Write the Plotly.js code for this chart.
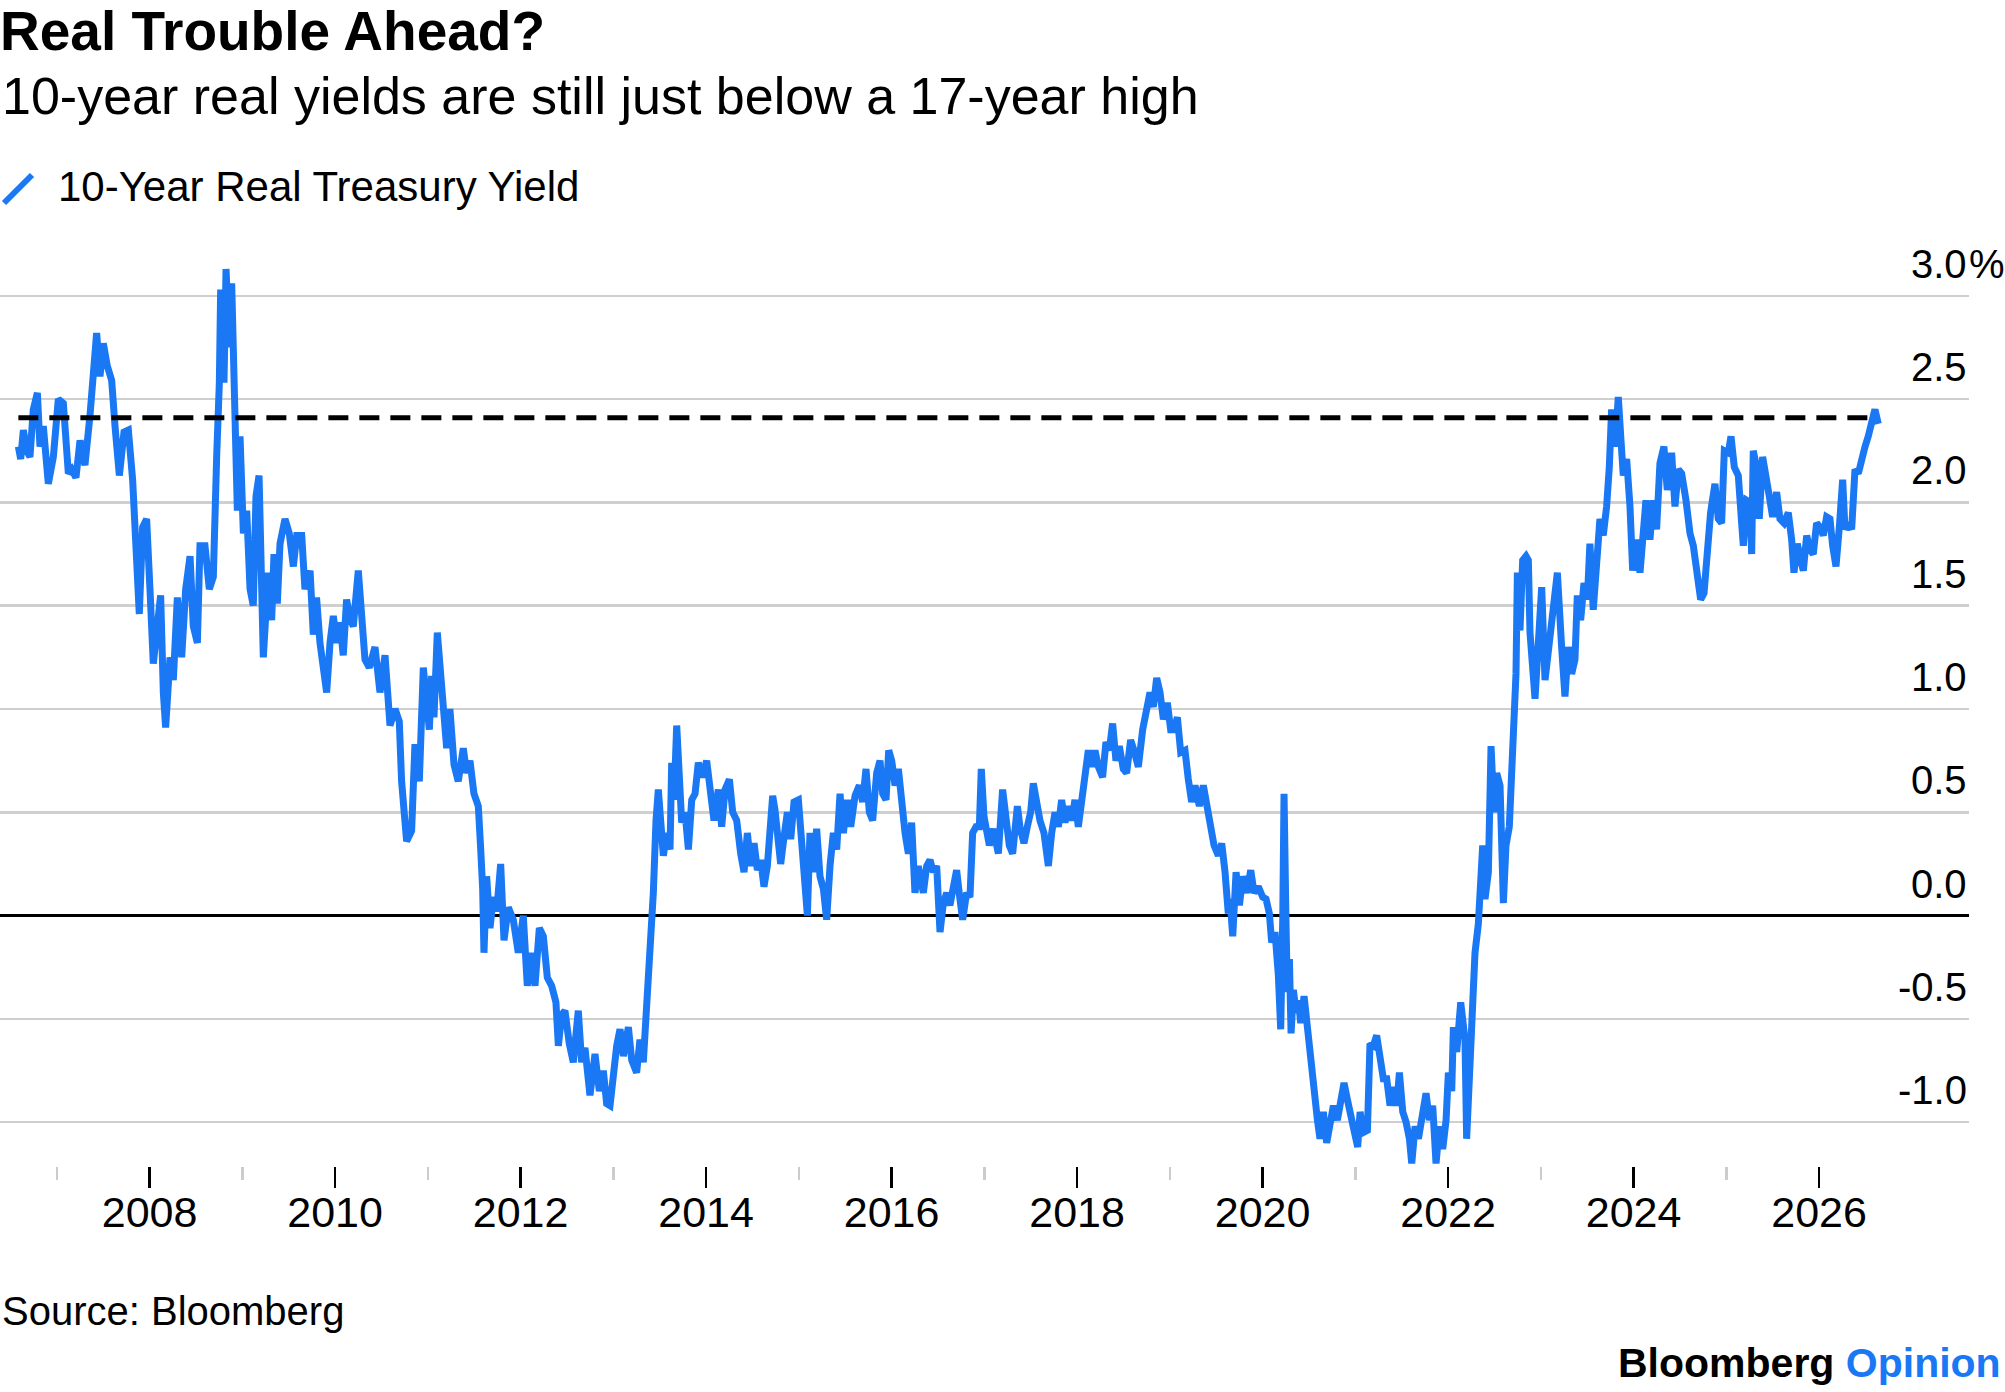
<!DOCTYPE html>
<html>
<head>
<meta charset="utf-8">
<script src="https://cdn.plot.ly/plotly-3.0.1.min.js"></script>
<style>
  html, body { margin: 0; padding: 0; background: #ffffff; }
  #chart { width: 2005px; height: 1392px; }
</style>
</head>
<body>
<div id="chart"></div>
<script>
// ---- Data (decimal year, 10-year real Treasury yield in %) ----
const dates = [
  2006.585, 2006.610, 2006.639, 2006.675, 2006.710, 2006.746, 2006.790, 2006.818, 2006.854, 2006.908,
  2006.962, 2007.016, 2007.070, 2007.124, 2007.160, 2007.206, 2007.250, 2007.303, 2007.357, 2007.429,
  2007.465, 2007.501, 2007.544, 2007.591, 2007.627, 2007.674, 2007.724, 2007.771, 2007.817, 2007.853,
  2007.889, 2007.925, 2007.968, 2008.004, 2008.040, 2008.076, 2008.119, 2008.148, 2008.173, 2008.220,
  2008.256, 2008.299, 2008.346, 2008.389, 2008.436, 2008.471, 2008.515, 2008.543, 2008.597, 2008.644,
  2008.687, 2008.723, 2008.752, 2008.766, 2008.802, 2008.824, 2008.860, 2008.885, 2008.921, 2008.946,
  2008.975, 2009.011, 2009.047, 2009.083, 2009.118, 2009.147, 2009.180, 2009.226, 2009.280, 2009.316,
  2009.341, 2009.377, 2009.406, 2009.460, 2009.506, 2009.550, 2009.586, 2009.640, 2009.675,
  2009.730, 2009.765, 2009.800, 2009.837, 2009.873, 2009.909, 2009.945, 2009.981, 2010.017, 2010.052,
  2010.088, 2010.124, 2010.160, 2010.196, 2010.250, 2010.286, 2010.322, 2010.369, 2010.430, 2010.484,
  2010.538, 2010.592, 2010.646, 2010.692, 2010.717, 2010.771, 2010.825, 2010.861, 2010.908, 2010.951,
  2010.987, 2011.016, 2011.041, 2011.066, 2011.102, 2011.138, 2011.167, 2011.203, 2011.238, 2011.282,
  2011.328, 2011.382, 2011.418, 2011.454, 2011.497, 2011.544, 2011.569, 2011.591, 2011.605, 2011.634,
  2011.670, 2011.706, 2011.742, 2011.785, 2011.821, 2011.867, 2011.921, 2011.975, 2012.029, 2012.072,
  2012.119, 2012.155, 2012.202, 2012.245, 2012.288, 2012.335, 2012.381, 2012.407, 2012.443, 2012.478,
  2012.525, 2012.568, 2012.622, 2012.658, 2012.694, 2012.748, 2012.802, 2012.849, 2012.892, 2012.928,
  2012.964, 2013.000, 2013.036, 2013.072, 2013.108, 2013.162, 2013.198, 2013.251, 2013.287, 2013.323,
  2013.359, 2013.388, 2013.413, 2013.431, 2013.460, 2013.485, 2013.510, 2013.539, 2013.575, 2013.611,
  2013.629, 2013.654, 2013.683, 2013.719, 2013.737, 2013.773, 2013.809, 2013.845, 2013.881, 2013.916,
  2013.963, 2014.006, 2014.042, 2014.085, 2014.132, 2014.168, 2014.204, 2014.251, 2014.287, 2014.330,
  2014.373, 2014.409, 2014.445, 2014.481, 2014.517, 2014.553, 2014.588, 2014.624, 2014.660, 2014.689,
  2014.718, 2014.743, 2014.772, 2014.804, 2014.840, 2014.876, 2014.912, 2014.948, 2014.995, 2015.031,
  2015.059, 2015.092, 2015.120, 2015.156, 2015.192, 2015.228, 2015.264, 2015.300, 2015.336, 2015.372,
  2015.408, 2015.444, 2015.480, 2015.523, 2015.559, 2015.606, 2015.652, 2015.688, 2015.724, 2015.760,
  2015.796, 2015.839, 2015.875, 2015.904, 2015.940, 2015.969, 2016.001, 2016.037, 2016.073, 2016.109,
  2016.145, 2016.181, 2016.216, 2016.252, 2016.288,
  2016.342, 2016.378, 2016.414, 2016.450, 2016.486, 2016.522, 2016.558, 2016.594, 2016.629, 2016.665,
  2016.701, 2016.737, 2016.766, 2016.809, 2016.845, 2016.874, 2016.910, 2016.946, 2016.967, 2016.996,
  2017.025, 2017.054, 2017.097, 2017.151, 2017.197, 2017.233, 2017.269, 2017.305, 2017.356, 2017.384,
  2017.427, 2017.463, 2017.499, 2017.528, 2017.564, 2017.600, 2017.643, 2017.690, 2017.726, 2017.762,
  2017.798, 2017.833, 2017.869, 2017.905, 2017.941, 2017.977, 2018.013, 2018.049, 2018.085, 2018.121,
  2018.157, 2018.193, 2018.229, 2018.275, 2018.311, 2018.347, 2018.383, 2018.419, 2018.455, 2018.498,
  2018.534, 2018.577, 2018.613, 2018.660, 2018.707, 2018.750, 2018.786, 2018.822, 2018.858, 2018.894,
  2018.930, 2018.973, 2019.009, 2019.045, 2019.081, 2019.117, 2019.163, 2019.199, 2019.235, 2019.271,
  2019.318, 2019.361, 2019.404, 2019.440, 2019.476, 2019.523, 2019.559, 2019.595, 2019.630,
  2019.649, 2019.678, 2019.714, 2019.750, 2019.786, 2019.829, 2019.872, 2019.908, 2019.954, 2020.001,
  2020.037, 2020.073, 2020.098, 2020.134, 2020.170, 2020.195, 2020.217, 2020.231, 2020.253, 2020.267,
  2020.289, 2020.307, 2020.332, 2020.361, 2020.386, 2020.411, 2020.447, 2020.483, 2020.519, 2020.555,
  2020.591, 2020.619, 2020.655, 2020.691, 2020.727, 2020.763, 2020.806, 2020.842, 2020.878, 2020.914,
  2020.950, 2020.986, 2021.025, 2021.051, 2021.087, 2021.130, 2021.158, 2021.194, 2021.230, 2021.266,
  2021.302, 2021.338, 2021.374, 2021.410, 2021.446, 2021.475, 2021.511, 2021.547, 2021.583, 2021.608,
  2021.644, 2021.680, 2021.716, 2021.762, 2021.798, 2021.834, 2021.870, 2021.906, 2021.942, 2021.978,
  2022.003, 2022.039, 2022.057, 2022.093, 2022.136, 2022.182, 2022.200, 2022.254, 2022.290, 2022.326,
  2022.344, 2022.373, 2022.398, 2022.434, 2022.463, 2022.495, 2022.524, 2022.560, 2022.596, 2022.624,
  2022.660, 2022.686, 2022.711, 2022.732, 2022.747, 2022.775, 2022.804, 2022.840, 2022.865, 2022.883,
  2022.937, 2022.973, 2023.009, 2023.045, 2023.081, 2023.128, 2023.178,
  2023.224, 2023.260, 2023.296, 2023.332, 2023.368, 2023.393, 2023.429, 2023.465, 2023.501, 2023.529,
  2023.565, 2023.601, 2023.637, 2023.673, 2023.709, 2023.738, 2023.763, 2023.799, 2023.835, 2023.864,
  2023.889, 2023.925, 2023.961, 2023.990, 2024.025, 2024.069, 2024.104, 2024.133, 2024.176, 2024.212,
  2024.248, 2024.284, 2024.327, 2024.363, 2024.410, 2024.446, 2024.482, 2024.518, 2024.565, 2024.608,
  2024.644, 2024.679, 2024.723, 2024.759, 2024.795, 2024.830, 2024.877, 2024.913, 2024.949, 2024.978,
  2025.021, 2025.050, 2025.086, 2025.129, 2025.165, 2025.183, 2025.219, 2025.255, 2025.273, 2025.290,
  2025.326, 2025.355, 2025.391, 2025.427, 2025.463, 2025.499, 2025.542, 2025.578, 2025.621, 2025.668,
  2025.704, 2025.729, 2025.765, 2025.801, 2025.830, 2025.866, 2025.901, 2025.937, 2025.973, 2026.009,
  2026.045, 2026.081, 2026.117, 2026.146, 2026.182, 2026.218, 2026.254, 2026.279, 2026.315, 2026.351,
  2026.387, 2026.423, 2026.459, 2026.495, 2026.530, 2026.566, 2026.602, 2026.638
];

const realYield = [
  2.27, 2.21, 2.35, 2.25, 2.22, 2.45, 2.53, 2.27, 2.37, 2.09,
  2.22, 2.50, 2.48, 2.14, 2.16, 2.12, 2.30, 2.18, 2.42, 2.82,
  2.61, 2.77, 2.66, 2.59, 2.37, 2.13, 2.34, 2.35, 2.11, 1.84,
  1.46, 1.88, 1.92, 1.58, 1.22, 1.37, 1.55, 1.08, 0.91, 1.25,
  1.14, 1.54, 1.25, 1.58, 1.74, 1.40, 1.32, 1.79, 1.79, 1.58,
  1.64, 2.22, 2.58, 3.03, 2.58, 3.13, 2.75, 3.06, 2.42, 1.96,
  2.32, 1.85, 1.96, 1.58, 1.50, 2.03, 2.13, 1.25, 1.66, 1.43,
  1.75, 1.51, 1.80, 1.92, 1.85, 1.69, 1.84, 1.84, 1.58,
  1.67, 1.36, 1.54, 1.32, 1.16, 1.08, 1.32, 1.45, 1.32, 1.42,
  1.26, 1.53, 1.44, 1.40, 1.67, 1.46, 1.24, 1.20, 1.30, 1.08,
  1.26, 0.92, 1.00, 0.94, 0.65, 0.36, 0.41, 0.83, 0.65, 1.20,
  1.02, 0.90, 1.16, 0.96, 1.37, 1.18, 1.02, 0.81, 1.00, 0.73,
  0.65, 0.81, 0.69, 0.75, 0.59, 0.53, 0.33, 0.13, -0.18, 0.19,
  -0.06, 0.09, 0.02, 0.25, -0.12, 0.04, -0.02, -0.18, 0.00, -0.34,
  -0.18, -0.34, -0.06, -0.10, -0.30, -0.34, -0.42, -0.63, -0.48, -0.46,
  -0.62, -0.71, -0.46, -0.71, -0.64, -0.87, -0.67, -0.85, -0.75, -0.91,
  -0.92, -0.76, -0.63, -0.55, -0.68, -0.54, -0.70, -0.76, -0.60, -0.71,
  -0.44, -0.23, -0.08, 0.11, 0.46, 0.61, 0.46, 0.29, 0.40, 0.32,
  0.74, 0.56, 0.92, 0.66, 0.45, 0.50, 0.32, 0.56, 0.59, 0.74,
  0.67, 0.75, 0.61, 0.46, 0.61, 0.43, 0.61, 0.66, 0.50, 0.46,
  0.30, 0.21, 0.40, 0.24, 0.35, 0.22, 0.27, 0.14, 0.24, 0.38,
  0.58, 0.51, 0.38, 0.25, 0.38, 0.50, 0.37, 0.55, 0.56, 0.37,
  0.14, 0.00, 0.40, 0.21, 0.42, 0.19, 0.13, -0.02, 0.24, 0.40,
  0.32, 0.59, 0.40, 0.56, 0.43, 0.58, 0.63, 0.55, 0.71, 0.50,
  0.46, 0.69, 0.75, 0.59, 0.56, 0.80, 0.75, 0.63, 0.71, 0.53,
  0.40, 0.30, 0.45, 0.11, 0.24,
  0.11, 0.24, 0.27, 0.21, 0.24, -0.08, 0.06, 0.11, 0.05, 0.14,
  0.22, 0.08, -0.02, 0.11, 0.09, 0.40, 0.43, 0.43, 0.71, 0.48,
  0.40, 0.34, 0.42, 0.30, 0.61, 0.43, 0.34, 0.30, 0.53, 0.43,
  0.35, 0.43, 0.50, 0.64, 0.53, 0.46, 0.40, 0.24, 0.40, 0.50,
  0.43, 0.56, 0.45, 0.53, 0.46, 0.56, 0.43, 0.56, 0.69, 0.80,
  0.72, 0.80, 0.72, 0.67, 0.84, 0.80, 0.93, 0.75, 0.82, 0.71,
  0.69, 0.85, 0.80, 0.72, 0.90, 1.01, 1.08, 1.01, 1.15, 1.08,
  0.95, 1.03, 0.90, 0.90, 0.96, 0.79, 0.80, 0.66, 0.55, 0.63,
  0.53, 0.63, 0.53, 0.43, 0.34, 0.29, 0.35, 0.21, 0.01,
  0.08, -0.10, 0.21, 0.05, 0.19, 0.11, 0.22, 0.11, 0.14, 0.09,
  0.08, 0.01, -0.13, -0.08, -0.29, -0.55, -0.02, 0.59, -0.05, -0.37,
  -0.21, -0.57, -0.36, -0.47, -0.41, -0.52, -0.39, -0.54, -0.75, -0.83,
  -0.99, -1.08, -0.95, -1.10, -0.99, -0.92, -0.99, -0.91, -0.81, -0.89,
  -0.99, -1.04, -1.12, -0.95, -1.05, -1.04, -0.62, -0.63, -0.58, -0.70,
  -0.79, -0.79, -0.92, -0.83, -0.92, -0.76, -0.95, -1.00, -1.08, -1.20,
  -1.02, -1.08, -1.00, -0.86, -0.99, -0.92, -1.20, -1.02, -1.13, -0.99,
  -0.76, -0.85, -0.54, -0.66, -0.42, -0.60, -1.08, -0.47, -0.18, -0.04,
  0.13, 0.34, 0.08, 0.21, 0.82, 0.50, 0.69, 0.63, 0.06, 0.34,
  0.43, 0.69, 0.98, 1.17, 1.66, 1.38, 1.72, 1.74, 1.72, 1.37,
  1.05, 1.34, 1.59, 1.14, 1.29, 1.53, 1.66,
  1.30, 1.06, 1.30, 1.17, 1.24, 1.55, 1.43, 1.61, 1.53, 1.80,
  1.48, 1.69, 1.92, 1.84, 1.98, 2.17, 2.45, 2.27, 2.51, 2.30,
  2.13, 2.21, 1.98, 1.67, 1.82, 1.66, 1.88, 2.01, 1.82, 2.01,
  1.87, 2.19, 2.27, 2.06, 2.24, 1.98, 2.16, 2.14, 2.01, 1.85,
  1.79, 1.69, 1.53, 1.56, 1.75, 1.95, 2.09, 1.92, 1.90, 2.25,
  2.24, 2.32, 2.17, 2.13, 1.90, 1.79, 2.01, 2.00, 1.75, 2.25,
  2.17, 1.92, 2.22, 2.14, 2.03, 1.93, 2.05, 1.92, 1.90, 1.95,
  1.82, 1.66, 1.80, 1.72, 1.67, 1.84, 1.77, 1.75, 1.90, 1.88,
  1.84, 1.93, 1.92, 1.79, 1.69, 1.88, 2.11, 1.87, 1.90, 1.87,
  2.16, 2.14, 2.22, 2.27, 2.32, 2.40, 2.45, 2.38
];

const currentLevel = 2.41;   // dashed reference line (latest reading)

const seriesName = "10-Year Real Treasury Yield";
const xTickVals = [2008, 2010, 2012, 2014, 2016, 2018, 2020, 2022, 2024, 2026];
const xTickText = ["2008", "2010", "2012", "2014", "2016", "2018", "2020", "2022", "2024", "2026"];
const xMinorVals = [2007, 2009, 2011, 2013, 2015, 2017, 2019, 2021, 2023, 2025];
const yTickVals = [-1.0, -0.5, 0.0, 0.5, 1.0, 1.5, 2.0, 2.5, 3.0];
const yTickText = ["-1.0", "-0.5", "0.0", "0.5", "1.0", "1.5", "2.0", "2.5", "3.0"];
const yUnit = "%";

const titleText = "Real Trouble Ahead?";
const subtitleText = "10-year real yields are still just below a 17-year high";
const sourceText = "Source: Bloomberg";

// ---- Styling / layout helpers ----
const BLUE = "#1a78f4";
const FONT = "Liberation Sans, Arial, Helvetica, sans-serif";
const W = 2005, H = 1392;
const PLOT_L = 0, PLOT_R = 1969, PLOT_T = 250, PLOT_B = 1195;
const pxX = x => (x - PLOT_L) / (PLOT_R - PLOT_L);
const pxY = y => (PLOT_B - y) / (PLOT_B - PLOT_T);

const traces = [
  {
    type: "scatter", mode: "lines", name: seriesName,
    x: dates, y: realYield,
    line: { color: BLUE, width: 7, shape: "linear" },
    hoverinfo: "x+y", showlegend: false
  },
  {
    type: "scatter", mode: "lines", name: "Current level",
    x: [dates[0], dates[dates.length - 1]], y: [currentLevel, currentLevel],
    line: { color: "#000000", width: 5, dash: "20px,11px" },
    hoverinfo: "skip", showlegend: false
  }
];

const annotations = [];
annotations.push({
  text: subtitleText, xref: "paper", yref: "paper", x: pxX(0), y: pxY(96),
  xanchor: "left", yanchor: "middle", showarrow: false,
  font: { family: FONT, size: 52, color: "#000000" }
});
annotations.push({
  text: seriesName, xref: "paper", yref: "paper", x: pxX(56), y: pxY(186),
  xanchor: "left", yanchor: "middle", showarrow: false,
  font: { family: FONT, size: 42, color: "#000000" }
});
annotations.push({
  text: sourceText, xref: "paper", yref: "paper", x: pxX(0), y: pxY(1311),
  xanchor: "left", yanchor: "middle", showarrow: false,
  font: { family: FONT, size: 40, color: "#000000" }
});
annotations.push({
  text: "<b>Bloomberg</b> <b><span style='color:" + BLUE + "'>Opinion</span></b>",
  xref: "paper", yref: "paper", x: pxX(2003), y: pxY(1363),
  xanchor: "right", yanchor: "middle", showarrow: false,
  font: { family: FONT, size: 41, color: "#000000" }
});
yTickVals.forEach((v, i) => {
  annotations.push({
    text: yTickText[i], xref: "paper", yref: "y", x: 1, y: v,
    xanchor: "right", yanchor: "middle", yshift: 32, showarrow: false,
    font: { family: FONT, size: 40, color: "#000000" }
  });
});
annotations.push({
  text: yUnit, xref: "paper", yref: "y", x: 1, y: yTickVals[yTickVals.length - 1],
  xanchor: "left", yanchor: "middle", yshift: 32, xshift: -2, showarrow: false,
  font: { family: FONT, size: 40, color: "#000000" }
});

const shapes = [
  { // legend swatch (diagonal stroke)
    type: "line", xref: "paper", yref: "paper",
    x0: pxX(4), y0: pxY(203), x1: pxX(32), y1: pxY(175),
    line: { color: BLUE, width: 6 }
  }
];

const yMin = -(PLOT_B - 915.6) / 206.6;
const yMax = (915.6 - PLOT_T) / 206.6;
const xMin = 2008 - 149.6 / 92.75;
const xMax = 2008 + (PLOT_R - 149.6) / 92.75;

const layout = {
  width: W, height: H,
  margin: { l: PLOT_L, r: W - PLOT_R, t: PLOT_T, b: H - PLOT_B, pad: 0 },
  paper_bgcolor: "#ffffff", plot_bgcolor: "#ffffff",
  font: { family: FONT, color: "#000000" },
  title: {
    text: "<b>" + titleText + "</b>",
    xref: "container", yref: "container", x: 0, y: 1 - 31 / H,
    xanchor: "left", yanchor: "middle",
    font: { family: FONT, size: 55, color: "#000000" }
  },
  showlegend: false,
  xaxis: {
    range: [xMin, xMax], type: "linear",
    tickmode: "array", tickvals: xTickVals, ticktext: xTickText,
    ticks: "outside", ticklen: 21, tickwidth: 2.5, tickcolor: "#000000",
    tickfont: { family: FONT, size: 43, color: "#000000" },
    ticklabelstandoff: -13,
    showgrid: false, zeroline: false, showline: false,
    anchor: "free", position: (PLOT_B - 1166) / (PLOT_B - PLOT_T),
    minor: { tickmode: "array", tickvals: xMinorVals, ticks: "outside", ticklen: 13, tickwidth: 2.5, tickcolor: "#cccccc", showgrid: false },
    fixedrange: true
  },
  yaxis: {
    range: [yMin, yMax], type: "linear",
    tickmode: "array", tickvals: yTickVals, ticktext: yTickText,
    showticklabels: false, ticks: "",
    showgrid: true, gridcolor: "#cfcfcf", gridwidth: 2.5,
    zeroline: true, zerolinecolor: "#000000", zerolinewidth: 2.5,
    showline: false, fixedrange: true
  },
  annotations: annotations,
  shapes: shapes
};

Plotly.newPlot("chart", traces, layout, { staticPlot: true, displayModeBar: false });
</script>
</body>
</html>
